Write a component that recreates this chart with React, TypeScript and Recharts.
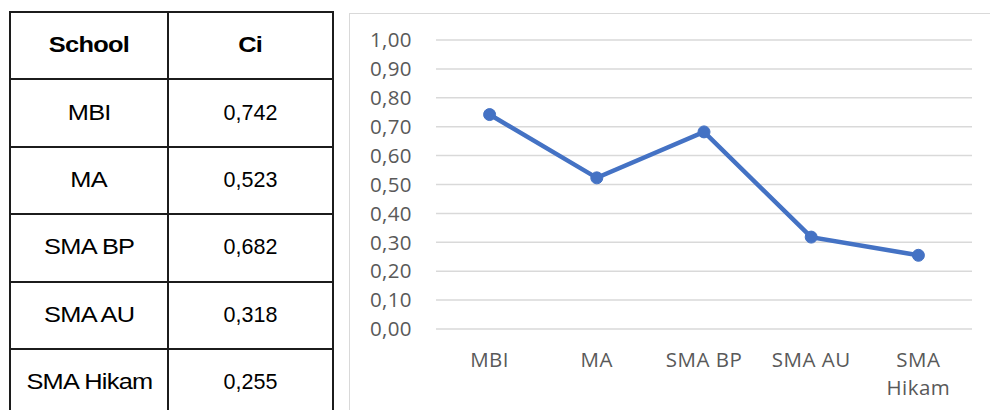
import React from 'react';
import { LineChart, Line, XAxis, YAxis, CartesianGrid } from 'recharts';

const schools = ['MBI', 'MA', 'SMA BP', 'SMA AU', 'SMA Hikam'];
const ciValues = [0.742, 0.523, 0.682, 0.318, 0.255];
const tableHeaders = ['School', 'Ci'];
const yTicks = [0, 0.1, 0.2, 0.3, 0.4, 0.5, 0.6, 0.7, 0.8, 0.9, 1.0];

const chartData = schools.map((s, i) => ({ school: s, ci: ciValues[i] }));

const fmt2 = (v: number) => v.toFixed(2).replace('.', ',');
const fmt3 = (v: number) => v.toFixed(3).replace('.', ',');

const LINE = '#1c1c1c';
const TABLE_TOP = 12;
const ROW_H = 67.4;
const COL_X = [10, 168, 333];

// wrap long category labels onto two lines (like Excel does when text exceeds the band)
const wrapLabel = (label: string): string[] => {
  if (label.length > 8 && label.includes(' ')) {
    const i = label.lastIndexOf(' ');
    return [label.slice(0, i), label.slice(i + 1)];
  }
  return [label];
};

const XTick = (props: any) => {
  const { x, y, payload } = props;
  const lines = wrapLabel(String(payload.value));
  return (
    <text
      x={x}
      y={y}
      textAnchor="middle"
      fill="#595959"
      fontSize={20.5}
      fontFamily="'Open Sans', sans-serif"
      style={{ letterSpacing: 0.5 }}
    >
      {lines.map((l, i) => (
        <tspan key={i} x={x} dy={i === 0 ? '0.71em' : 28}>
          {l}
        </tspan>
      ))}
    </text>
  );
};

function Table() {
  const rows: { cells: string[]; bold: boolean }[] = [
    { cells: tableHeaders, bold: true },
    ...schools.map((s, i) => ({ cells: [s, fmt3(ciValues[i])], bold: false })),
  ];
  const lines: React.ReactNode[] = [];
  for (let r = 0; r <= rows.length; r++) {
    lines.push(
      <div
        key={'h' + r}
        style={{
          position: 'absolute',
          left: COL_X[0] - 1,
          top: TABLE_TOP + r * ROW_H - 1,
          width: COL_X[2] - COL_X[0] + 2,
          height: 2,
          background: LINE,
        }}
      />
    );
  }
  COL_X.forEach((x, i) =>
    lines.push(
      <div
        key={'v' + i}
        style={{
          position: 'absolute',
          left: x - 1,
          top: TABLE_TOP - 1,
          width: 2,
          height: 420,
          background: LINE,
        }}
      />
    )
  );
  return (
    <>
      {rows.map((row, r) =>
        row.cells.map((c, ci) => (
          <div
            key={r + '-' + ci}
            style={{
              position: 'absolute',
              left: COL_X[ci],
              width: COL_X[ci + 1] - COL_X[ci],
              top: TABLE_TOP + r * ROW_H,
              height: ROW_H,
              display: 'flex',
              alignItems: 'center',
              justifyContent: 'center',
              fontFamily: "'Liberation Sans', Arial, sans-serif",
              fontSize: 21.5,
              fontWeight: row.bold ? 700 : 400,
              color: '#000',
            }}
          >
            <span
              style={{
                display: 'inline-block',
                letterSpacing: ci === 0 || row.bold ? -0.6 : 0,
                transform: ci === 0 || row.bold ? 'scaleX(1.18)' : 'none',
              }}
            >
              {c}
            </span>
          </div>
        ))
      )}
      {lines}
    </>
  );
}

export default function App() {
  return (
    <div
      style={{
        position: 'absolute',
        left: 0,
        top: 0,
        width: 990,
        height: 410,
        overflow: 'hidden',
        background: '#fff',
      }}
    >
      <Table />
      <div
        style={{
          position: 'absolute',
          left: 349,
          top: 13,
          width: 800,
          height: 600,
          border: '1px solid #d9d9d9',
        }}
      />
      <div style={{ position: 'absolute', left: 349, top: 13 }}>
        <LineChart
          width={641}
          height={397}
          data={chartData}
          margin={{ top: 27, right: 18, left: 0, bottom: 0 }}
        >
          <CartesianGrid vertical={false} stroke="#d9d9d9" strokeWidth={1.5} />
          <XAxis
            dataKey="school"
            axisLine={false}
            tickLine={false}
            height={81}
            tickMargin={17}
            interval={0}
            padding={{ left: 53.6, right: 53.6 }}
            tick={<XTick />}
          />
          <YAxis
            domain={[0, 1]}
            ticks={yTicks}
            width={87}
            axisLine={false}
            tickLine={false}
            tickMargin={18}
            tickFormatter={fmt2}
            tick={{
              fill: '#595959',
              fontSize: 20.5,
              fontFamily: "'Open Sans', sans-serif",
              style: { letterSpacing: 0.4 },
            }}
            interval={0}
          />
          <Line
            type="linear"
            dataKey="ci"
            stroke="#4472C4"
            strokeWidth={4.5}
            dot={{ r: 6, fill: '#4472C4', stroke: '#4472C4', strokeWidth: 1 }}
            isAnimationActive={false}
          />
        </LineChart>
      </div>
    </div>
  );
}
